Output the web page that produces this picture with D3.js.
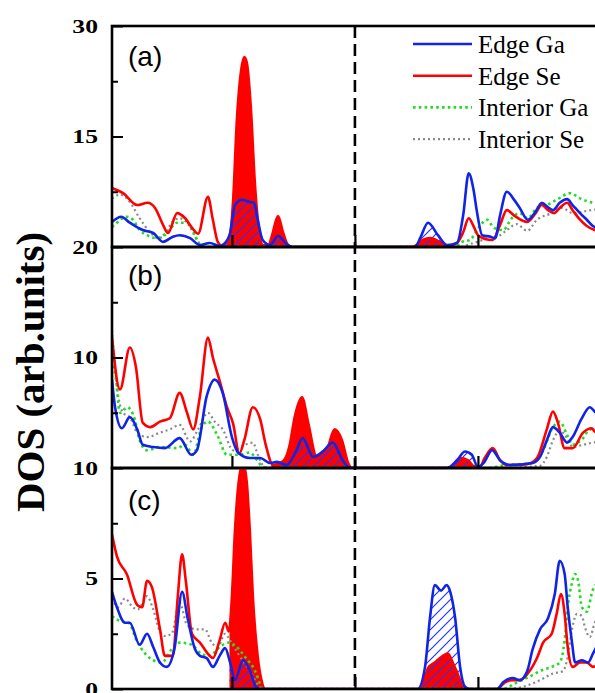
<!DOCTYPE html>
<html>
<head>
<meta charset="utf-8">
<script src="https://cdn.jsdelivr.net/npm/d3@7"></script>
<style>
  body { margin: 0; background: #fff; }
  svg { display: block; }
</style>
</head>
<body>
<script>
//Data: [energy (eV), DOS] pairs
const aEdgeGa = [[-3.95,3.4],[-3.80,4.1],[-3.66,3.3],[-3.45,2.3],[-3.28,1.9],[-3.12,0.7],[-2.96,1.4],[-2.85,1.6],[-2.68,1.2],[-2.52,0.27],[-2.36,0.55],[-2.20,0.13],[-2.13,0.4],[-2.03,1.9],[-1.95,5.7],[-1.84,6.4],[-1.71,6.1],[-1.64,6.0],[-1.59,4.1],[-1.50,0.95],[-1.38,0.27],[-1.25,1.5],[-1.11,0.4],[-1.02,0],
  [0.98,0],[1.06,1.2],[1.19,3.3],[1.35,1.6],[1.50,0.27],[1.66,0.55],[1.76,4.3],[1.85,10.0],[1.93,7.7],[1.98,5.0],[2.07,1.6],[2.20,1.4],[2.28,1.2],[2.36,4.3],[2.47,7.5],[2.59,6.4],[2.68,5.3],[2.81,3.7],[2.93,4.7],[3.04,6.0],[3.14,5.4],[3.22,5.0],[3.33,6.0],[3.45,6.5],[3.54,5.7],[3.66,4.6],[3.77,3.7],[3.87,2.85],[4.05,2.3]];
const aEdgeSe = [[-3.95,8.0],[-3.77,7.3],[-3.54,5.7],[-3.37,6.0],[-3.25,5.3],[-3.12,3.0],[-3.04,1.9],[-2.89,4.6],[-2.76,3.9],[-2.63,2.4],[-2.55,1.8],[-2.39,6.8],[-2.31,3.7],[-2.23,0.7],[-2.15,0.1],[-2.10,0.1],[-2.03,1.6],[-1.98,6.4],[-1.92,17.2],[-1.85,24.0],[-1.80,25.8],[-1.76,25.1],[-1.69,18.6],[-1.63,9.1],[-1.56,2.3],[-1.50,0.27],[-1.41,0.1],[-1.35,1.5],[-1.25,4.2],[-1.17,2.0],[-1.09,0.27],[-1.02,0],
  [0.94,0],[1.07,0.8],[1.22,1.2],[1.38,0.7],[1.50,0.1],[1.66,0.55],[1.76,2.0],[1.85,3.9],[1.93,2.8],[2.00,1.6],[2.11,1.1],[2.24,0.95],[2.36,3.0],[2.47,5.0],[2.60,4.2],[2.80,3.4],[2.93,4.5],[3.04,5.7],[3.14,5.0],[3.24,4.6],[3.33,5.3],[3.45,6.0],[3.54,5.0],[3.66,3.7],[3.77,2.85],[3.90,2.3],[4.05,2.0]];
const aIntGa = [[-3.95,2.7],[-3.87,3.3],[-3.71,4.1],[-3.61,3.7],[-3.50,2.3],[-3.38,1.6],[-3.22,1.2],[-3.06,1.9],[-2.89,3.3],[-2.73,3.3],[-2.60,1.6],[-2.52,0.27],[-2.42,0],
  [1.63,0],[1.74,0.7],[1.87,0.95],[2.03,2.85],[2.15,3.7],[2.26,2.6],[2.41,2.3],[2.55,3.9],[2.68,4.6],[2.81,3.9],[2.96,5.3],[3.12,5.7],[3.28,6.4],[3.50,7.3],[3.66,6.6],[3.87,6.0],[4.05,5.7]];
const aIntSe = [[-3.95,6.6],[-3.82,7.1],[-3.66,6.1],[-3.50,3.9],[-3.33,2.0],[-3.20,1.2],[-3.09,1.6],[-2.98,3.3],[-2.85,3.9],[-2.68,2.7],[-2.57,0.95],[-2.47,0.13],[-2.39,0],
  [1.71,0],[1.87,0.4],[2.03,0.8],[2.20,1.4],[2.33,1.5],[2.47,2.3],[2.63,3.1],[2.80,2.2],[2.96,3.7],[3.17,4.5],[3.37,5.3],[3.54,4.6],[3.77,4.9],[4.05,5.3]];

const bEdgeGa = [[-3.95,8.0],[-3.90,5.5],[-3.79,3.6],[-3.66,4.6],[-3.54,3.5],[-3.45,2.1],[-3.28,1.9],[-3.09,1.8],[-2.85,2.7],[-2.66,1.2],[-2.57,1.6],[-2.41,6.5],[-2.28,8.0],[-2.15,6.8],[-2.00,2.8],[-1.90,1.4],[-1.71,0.9],[-1.54,0.9],[-1.38,0.45],[-1.27,0.55],[-1.11,0.27],[-0.95,1.6],[-0.85,2.7],[-0.68,1.0],[-0.52,1.5],[-0.36,2.3],[-0.20,0.7],[-0.11,0.1],[-0.05,0],
  [1.50,0],[1.66,0.7],[1.79,1.5],[1.90,1.2],[2.00,0.1],[2.10,0.5],[2.23,1.6],[2.36,0.7],[2.52,0.27],[2.89,0.45],[3.01,1.0],[3.12,2.5],[3.22,3.7],[3.33,3.2],[3.45,2.3],[3.54,2.8],[3.68,4.4],[3.82,5.5],[3.90,5.1],[4.05,4.5]];
const bEdgeSe = [[-3.95,11.8],[-3.82,7.1],[-3.66,10.9],[-3.56,9.1],[-3.45,4.1],[-3.33,3.7],[-3.17,4.2],[-3.01,4.5],[-2.85,6.8],[-2.73,5.0],[-2.63,3.5],[-2.52,6.5],[-2.39,11.8],[-2.31,10.0],[-2.19,7.7],[-2.08,5.5],[-1.98,4.0],[-1.88,1.3],[-1.80,2.5],[-1.66,5.5],[-1.54,4.4],[-1.45,2.1],[-1.33,0.27],[-1.17,0.6],[-1.06,2.1],[-0.98,4.6],[-0.86,6.4],[-0.76,4.1],[-0.62,1.0],[-0.46,1.6],[-0.33,3.5],[-0.21,2.5],[-0.11,0.45],[-0.05,0],
  [1.54,0],[1.71,0.9],[1.84,0.7],[1.95,0.1],[2.03,0.1],[2.11,0.9],[2.24,1.8],[2.36,0.7],[2.47,0.27],[2.80,0.35],[2.96,0.9],[3.12,3.5],[3.22,5.1],[3.30,4.1],[3.41,1.8],[3.54,1.8],[3.71,3.2],[3.85,3.6],[3.90,3.3],[4.05,3.0]];
const bIntGa = [[-3.95,9.2],[-3.90,8.6],[-3.82,5.0],[-3.70,5.5],[-3.58,4.4],[-3.50,2.5],[-3.38,1.6],[-3.17,1.9],[-2.89,1.8],[-2.76,2.1],[-2.63,1.2],[-2.49,3.7],[-2.39,4.2],[-2.24,3.0],[-2.08,1.2],[-1.87,1.2],[-1.71,1.4],[-1.59,0.7],[-1.50,0.1],[-1.40,0],
  [2.20,0],[2.36,0.2],[2.89,0.45],[3.06,1.6],[3.22,3.7],[3.33,4.2],[3.45,3.0],[3.54,2.1],[3.71,2.7],[3.82,3.5],[3.90,3.3],[4.05,3.1]];
const bIntSe = [[-3.95,12.5],[-3.87,7.4],[-3.77,5.0],[-3.66,4.6],[-3.54,3.2],[-3.38,2.8],[-3.17,3.2],[-3.01,3.5],[-2.85,3.9],[-2.68,2.4],[-2.55,3.5],[-2.39,5.0],[-2.28,4.2],[-2.15,3.5],[-1.98,1.6],[-1.79,2.1],[-1.66,2.3],[-1.58,1.2],[-1.50,0.27],[-1.40,0],
  [2.36,0],[3.01,0.2],[3.12,1.0],[3.22,2.5],[3.33,3.4],[3.45,2.7],[3.54,1.9],[3.71,2.1],[3.87,2.3],[4.05,2.4]];

const cEdgeGa = [[-3.95,4.4],[-3.87,3.7],[-3.74,3.0],[-3.66,3.0],[-3.50,2.0],[-3.38,2.5],[-3.28,1.9],[-3.17,1.2],[-3.06,1.0],[-2.93,1.9],[-2.81,4.4],[-2.72,3.2],[-2.60,1.8],[-2.52,1.5],[-2.41,1.4],[-2.31,1.0],[-2.20,1.5],[-2.11,1.85],[-2.03,1.2],[-1.95,0.4],[-1.82,1.3],[-1.71,0.85],[-1.61,0.1],[-1.55,0],
  [1.02,0],[1.14,1.0],[1.22,3.2],[1.30,4.7],[1.40,4.45],[1.49,4.7],[1.55,4.4],[1.63,3.2],[1.71,1.0],[1.79,0.1],[1.87,0],[2.31,0],[2.41,0.3],[2.57,0.5],[2.68,0.4],[2.80,0.8],[2.89,1.8],[3.01,2.7],[3.14,3.2],[3.25,4.3],[3.33,5.8],[3.41,5.2],[3.46,3.7],[3.53,2.1],[3.58,1.2],[3.69,1.3],[3.79,1.2],[3.87,1.6],[4.05,2.6]];
const cEdgeSe = [[-3.95,7.0],[-3.87,6.0],[-3.71,5.2],[-3.54,3.8],[-3.46,3.7],[-3.38,4.9],[-3.30,4.6],[-3.17,2.7],[-3.09,1.5],[-2.96,1.5],[-2.88,4.2],[-2.81,6.1],[-2.75,4.9],[-2.65,2.5],[-2.52,2.1],[-2.36,1.5],[-2.31,1.4],[-2.20,2.2],[-2.11,3.0],[-2.05,2.6],[-2.00,4.2],[-1.95,7.2],[-1.88,9.6],[-1.82,10.2],[-1.76,9.4],[-1.71,7.2],[-1.66,4.2],[-1.58,1.45],[-1.52,0.4],[-1.46,0],
  [1.06,0],[1.19,0.95],[1.30,1.2],[1.43,1.5],[1.51,1.6],[1.59,1.2],[1.71,0.4],[1.76,0],[2.31,0],[2.44,0.3],[2.55,0.4],[2.68,0.4],[2.81,0.7],[2.96,1.4],[3.06,2.1],[3.20,2.5],[3.28,3.4],[3.35,4.3],[3.41,3.4],[3.46,1.9],[3.54,1.0],[3.66,1.2],[3.77,1.2],[3.87,1.0],[4.05,1.3]];
const cIntGa = [[-3.95,3.3],[-3.84,3.1],[-3.68,3.0],[-3.55,2.2],[-3.41,1.6],[-3.28,1.3],[-3.14,1.2],[-2.98,1.8],[-2.85,2.1],[-2.65,2.0],[-2.50,1.6],[-2.36,1.5],[-2.20,1.9],[-2.05,2.1],[-1.92,1.9],[-1.80,1.5],[-1.63,0.85],[-1.53,0.2],[-1.45,0],
  [2.41,0],[2.60,0.25],[2.83,0.55],[3.04,0.85],[3.20,1.0],[3.33,1.2],[3.41,2.2],[3.46,3.7],[3.53,4.8],[3.58,5.2],[3.63,4.9],[3.69,3.7],[3.77,3.5],[3.87,4.5],[4.05,5.0]];
const cIntSe = [[-3.95,4.1],[-3.85,3.7],[-3.74,4.1],[-3.61,3.7],[-3.53,3.6],[-3.38,4.2],[-3.28,3.6],[-3.17,2.6],[-3.09,2.4],[-2.98,2.5],[-2.85,3.9],[-2.73,2.9],[-2.57,2.7],[-2.44,2.7],[-2.33,2.1],[-2.23,1.9],[-2.11,2.5],[-2.03,2.2],[-1.90,1.6],[-1.70,0.8],[-1.55,0.1],[-1.45,0],
  [2.44,0],[2.73,0.1],[3.01,0.4],[3.22,0.7],[3.38,0.8],[3.46,1.45],[3.53,2.7],[3.61,3.4],[3.69,3.3],[3.74,2.8],[3.82,2.35],[3.90,3.0],[4.05,3.5]];

//Energy windows shaded (red filled Edge Se, hatched Edge Ga)
const aFill = [[-2.14, -1.0], [0.95, 1.52]];
const bFill = [[-1.36, 0], [1.48, 2.02]];
const cFill = [[-2.04, -1.44], [1.0, 1.8]];

const panelLabels = ["(a)", "(b)", "(c)"];
const yMax = [30, 20, 10];
const majorTicks = [[15, 30], [10, 20], [0, 5, 10]];
const minorTicks = [[7.5, 22.5], [5, 15], [2.5, 7.5]];
const xTicks = [-2, 0, 2];
const legendNames = ["Edge Ga", "Edge Se", "Interior Ga", "Interior Se"];

//Layout
const width = 595, height = 693;
const left = 112, right = 604, topY = 26, panelH = 221;
const serif = "Times New Roman, Liberation Serif, Times, serif";

//Line styles, same order as legendNames
const styles = [
  { color: "#1024e6", width: 2.6, dash: null },
  { color: "#ff0000", width: 2.6, dash: null },
  { color: "#22dd22", width: 2.6, dash: "2.6,3.2" },
  { color: "#8a8a8a", width: 2.2, dash: "2,3" }
];

const panels = [
  { series: [aEdgeGa, aEdgeSe, aIntGa, aIntSe], fills: aFill },
  { series: [bEdgeGa, bEdgeSe, bIntGa, bIntSe], fills: bFill },
  { series: [cEdgeGa, cEdgeSe, cIntGa, cIntSe], fills: cFill }
];

const x = d3.scaleLinear().domain([-3.95, 4.05]).range([left, right]);

const svg = d3.select("body").append("svg")
  .attr("width", width)
  .attr("height", height);

const defs = svg.append("defs");
defs.append("pattern")
  .attr("id", "hatch")
  .attr("patternUnits", "userSpaceOnUse")
  .attr("width", 10)
  .attr("height", 10)
  .append("path")
  .attr("d", "M-1,1 L1,-1 M0,10 L10,0 M9,11 L11,9")
  .attr("stroke", "#2035ff")
  .attr("stroke-width", 1.2);

panels.forEach((p, i) => {
  const y0 = topY + i * panelH;
  const y = d3.scaleLinear().domain([0, yMax[i]]).range([y0 + panelH, y0]);

  defs.append("clipPath").attr("id", "clip" + i)
    .append("rect")
    .attr("x", left).attr("y", y0)
    .attr("width", right - left).attr("height", panelH);

  const g = svg.append("g").attr("clip-path", `url(#clip${i})`);

  const line = d3.line()
    .x(d => x(d[0]))
    .y(d => y(d[1]))
    .curve(d3.curveMonotoneX);
  const area = d3.area()
    .x(d => x(d[0]))
    .y0(y(0))
    .y1(d => y(d[1]))
    .curve(d3.curveMonotoneX);

  //shaded windows
  p.fills.forEach((w, j) => {
    const id = `fill${i}_${j}`;
    defs.append("clipPath").attr("id", id)
      .append("rect")
      .attr("x", x(w[0])).attr("y", y0)
      .attr("width", x(w[1]) - x(w[0])).attr("height", panelH);
    const fg = g.append("g").attr("clip-path", `url(#${id})`);
    fg.append("path").attr("d", area(p.series[1])).attr("fill", "#ff0000");
    fg.append("path").attr("d", area(p.series[0])).attr("fill", "url(#hatch)");
  });

  //curves, interior first so edge lines sit on top
  [3, 2, 1, 0].forEach(k => {
    g.append("path")
      .attr("d", line(p.series[k]))
      .attr("fill", "none")
      .attr("stroke", styles[k].color)
      .attr("stroke-width", styles[k].width)
      .attr("stroke-dasharray", styles[k].dash)
      .attr("stroke-linejoin", "round");
  });

  //y axis: major ticks with labels, minor ticks without
  const yMajor = svg.append("g")
    .attr("transform", `translate(${left},0)`)
    .call(d3.axisLeft(y).tickValues(majorTicks[i]).tickSizeInner(-11).tickSizeOuter(0).tickPadding(10.4));
  yMajor.select(".domain").remove();
  yMajor.selectAll("line").attr("stroke-width", 2);
  yMajor.selectAll("text")
    .attr("transform", "scale(1.35,1)")
    .attr("font-family", serif)
    .attr("font-weight", "bold")
    .attr("font-size", 19)
    .attr("fill", "#000");

  const yMinor = svg.append("g")
    .attr("transform", `translate(${left},0)`)
    .call(d3.axisLeft(y).tickValues(minorTicks[i]).tickSizeInner(-6).tickSizeOuter(0).tickFormat(""));
  yMinor.select(".domain").remove();
  yMinor.selectAll("line").attr("stroke-width", 2);

  //x ticks on each panel bottom
  const xAxis = svg.append("g")
    .attr("transform", `translate(0,${y0 + panelH})`)
    .call(d3.axisBottom(x).tickValues(xTicks).tickSizeInner(-12).tickSizeOuter(0).tickFormat(""));
  xAxis.select(".domain").remove();
  xAxis.selectAll("line").attr("stroke-width", 2.2);

  //frame
  svg.append("rect")
    .attr("x", left).attr("y", y0)
    .attr("width", right - left).attr("height", panelH)
    .attr("fill", "none")
    .attr("stroke", "#000")
    .attr("stroke-width", 2.6);

  //panel label
  svg.append("text")
    .attr("x", 128)
    .attr("y", y0 + [40, 38, 42][i])
    .attr("font-family", "Arial, Liberation Sans, sans-serif")
    .attr("font-size", 28)
    .text(panelLabels[i]);
});

//Fermi level
svg.append("line")
  .attr("x1", x(0)).attr("x2", x(0))
  .attr("y1", topY).attr("y2", topY + 3 * panelH)
  .attr("stroke", "#000")
  .attr("stroke-width", 2.6)
  .attr("stroke-dasharray", "12,6");

//Legend
const legend = svg.append("g");
legendNames.forEach((name, k) => {
  const ly = 44 + k * 31.7;
  legend.append("line")
    .attr("x1", 413).attr("x2", 472)
    .attr("y1", ly).attr("y2", ly)
    .attr("stroke", styles[k].color)
    .attr("stroke-width", styles[k].width)
    .attr("stroke-dasharray", styles[k].dash);
  legend.append("text")
    .attr("x", 478)
    .attr("y", ly + 9)
    .attr("font-family", serif)
    .attr("font-size", 25)
    .text(name);
});

//Y title
svg.append("text")
  .attr("transform", "translate(44,372) rotate(-90)")
  .attr("text-anchor", "middle")
  .attr("font-family", serif)
  .attr("font-weight", "bold")
  .attr("font-size", 41)
  .text("DOS (arb.units)");
</script>
</body>
</html>
